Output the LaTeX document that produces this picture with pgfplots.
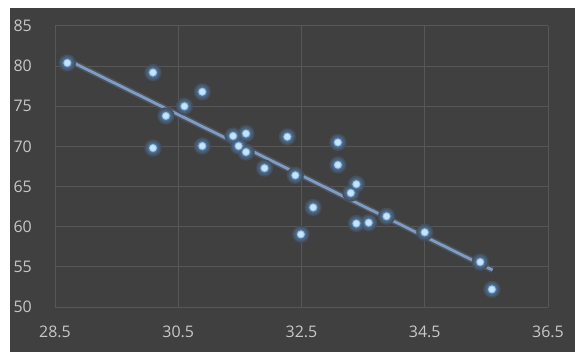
\documentclass[border=0pt]{standalone}
\usepackage{pgfplots}
\pgfplotsset{compat=1.18}
\usepackage{fontspec}
\setmainfont{Open Sans}
\definecolor{bg}{HTML}{404040}
\definecolor{gridc}{HTML}{575757}
\definecolor{tickc}{HTML}{C8C8C8}
\definecolor{glow}{HTML}{5A9AE0}
\definecolor{core}{HTML}{C8E4FA}
\definecolor{trend}{HTML}{7F9CC4}
\colorlet{g1}{glow!18!bg}
\colorlet{g2}{glow!34!bg}
\colorlet{g3}{glow!55!bg}
\colorlet{g4}{core!55!glow}
\colorlet{tg}{trend!22!bg}
\begin{document}
\begin{tikzpicture}[x=1bp,y=1bp]
\fill[white] (0,0) rectangle (575,352);
\fill[bg] (10,0) rectangle (575,344);
\begin{axis}[
  at={(55bp,45bp)}, anchor=south west,
  scale only axis, width=493bp, height=281bp,
  xmin=28.5, xmax=36.5, ymin=50, ymax=85,
  xtick={28.5,30.5,32.5,34.5,36.5},
  ytick={50,55,...,85},
  xticklabels={28.5,30.5,32.5,34.5,36.5},
  axis line style={draw=none},
  major tick length=0pt,
  grid=major,
  major grid style={draw=gridc, line width=1bp},
  tick label style={font=\fontsize{16}{16}\selectfont, text=tickc},
  xticklabel style={yshift=-15bp},
  yticklabel style={anchor=west, xshift=-45bp},
  /pgf/number format/assume math mode=true,
  clip=false,
]
\addplot[draw=tg, line width=6bp] coordinates {(28.7,80.8) (35.6,54.6)};
\addplot[draw=trend, line width=2.8bp] coordinates {(28.7,80.8) (35.6,54.6)};
\pgfplotstableread{
x y
28.70 80.4
30.09 79.2
30.30 73.8
30.60 75.0
30.89 76.8
30.09 69.8
30.89 70.05
31.39 71.3
31.60 71.6
31.48 70.05
31.60 69.3
31.90 67.3
32.27 71.2
33.09 70.5
33.09 67.7
32.40 66.4
33.39 65.3
33.30 64.2
32.69 62.4
32.49 59.05
33.39 60.4
33.59 60.5
33.88 61.3
34.50 59.3
35.40 55.6
35.59 52.2
}\pts
\addplot[g1, only marks, mark=*, mark size=8.5bp, mark options={draw=g1, fill=g1, line width=0.1bp}] table {\pts};
\addplot[g2, only marks, mark=*, mark size=6.8bp, mark options={draw=g2, fill=g2, line width=0.1bp}] table {\pts};
\addplot[g3, only marks, mark=*, mark size=5.2bp, mark options={draw=g3, fill=g3, line width=0.1bp}] table {\pts};
\addplot[g4, only marks, mark=*, mark size=3.9bp, mark options={draw=g4, fill=g4, line width=0.1bp}] table {\pts};
\addplot[core, only marks, mark=*, mark size=2.8bp, mark options={draw=core, fill=core, line width=0.1bp}] table {\pts};
\end{axis}
\end{tikzpicture}
\end{document}
